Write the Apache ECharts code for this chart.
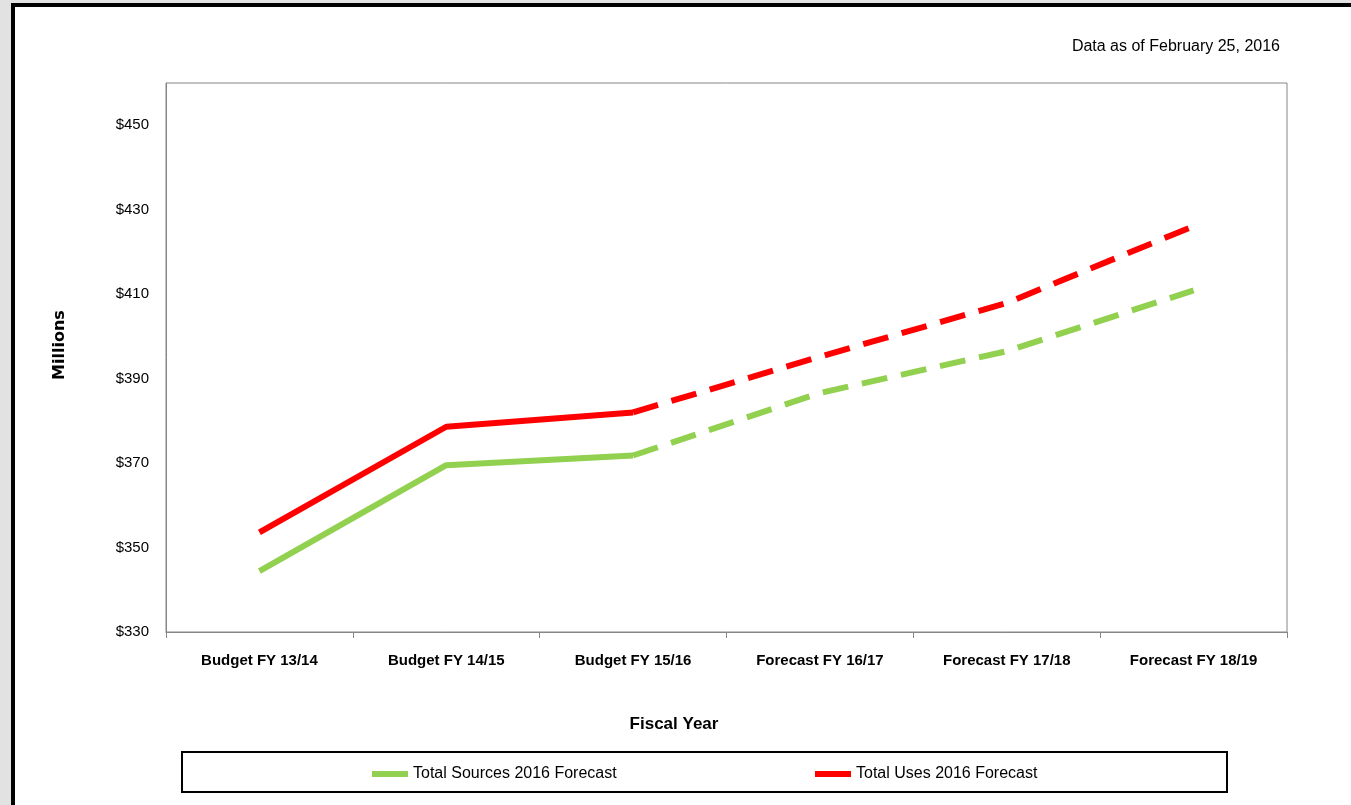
<!DOCTYPE html>
<html lang="en">
<head>
    <meta charset="UTF-8">
    <title>Sources and Uses Forecast</title>
    <script src="https://cdn.jsdelivr.net/npm/echarts@6/dist/echarts.min.js"></script>
    <style>
        *{
            padding:0;
            margin:0;
        }
        html,body{
            width:100%;
            height:100%;
            background:#fff;
        }
        #main{
            width:1351px;
            height:805px;
        }
    </style>
</head>
<body>
<div id="main"></div>
<script>
    // values, millions of dollars
    var categories = ['Budget FY 13/14','Budget FY 14/15','Budget FY 15/16','Forecast FY 16/17','Forecast FY 17/18','Forecast FY 18/19'];
    var sources = [344.4, 369.5, 371.8, 386.6, 396.5, 410.9];
    var uses = [353.6, 378.6, 382.0, 395.2, 407.9, 426.1];
    var lastBudget = 2; // budget years are solid, forecast years dashed
    var yMin = 330, yMax = 460, yLabelStep = 20;

    function solidPart(arr){
        return arr.map(function(v,i){ return i <= lastBudget ? v : null; });
    }
    function dashedPart(arr){
        return arr.map(function(v,i){ return i >= lastBudget ? v : null; });
    }

    var font = '"Liberation Sans",Arial,sans-serif';
    var green = '#92D050', red = '#FF0000', axisGray = '#868686';

    var myChart = echarts.init(document.getElementById('main'));
    var option = {
        backgroundColor:'#fff',
        animation:false,
        title:{
            text:'Data as of February 25, 2016',
            right:66,
            top:34,
            textStyle:{
                fontFamily:font,
                fontWeight:'normal',
                fontSize:16,
                color:'#000'
            }
        },
        grid:{
            left:166,
            right:64,
            top:83,
            bottom:173,
            show:true,
            borderColor:axisGray,
            borderWidth:1
        },
        legend:[{
            data:['Total Sources 2016 Forecast'],
            left:367,
            top:761,
            icon:'rect',
            itemWidth:36,
            itemHeight:6,
            textStyle:{fontFamily:font, fontSize:16, color:'#000'}
        },{
            data:['Total Uses 2016 Forecast'],
            left:810,
            top:761,
            icon:'rect',
            itemWidth:36,
            itemHeight:6,
            textStyle:{fontFamily:font, fontSize:16, color:'#000'}
        }],
        xAxis:{
            type:'category',
            data:categories,
            boundaryGap:true,
            axisLine:{lineStyle:{color:axisGray, width:1}},
            axisTick:{show:true, length:6, lineStyle:{color:axisGray}},
            axisLabel:{
                interval:0,
                color:'#000',
                fontFamily:font,
                fontWeight:'bold',
                fontSize:15,
                margin:21
            },
            splitLine:{show:false}
        },
        yAxis:{
            type:'value',
            min:yMin,
            max:yMax,
            interval:10,
            axisLine:{show:true, lineStyle:{color:axisGray, width:1}},
            axisTick:{show:false},
            splitLine:{show:false},
            axisLabel:{
                color:'#000',
                fontFamily:font,
                fontSize:15,
                margin:17,
                formatter:function(v){
                    return (v - yMin) % yLabelStep === 0 && v < yMax ? '$' + v : '';
                }
            }
        },
        graphic:[
            // window frame
            {type:'rect', shape:{x:0, y:0, width:11, height:805}, style:{fill:'#e2e2e2'}, silent:true},
            {type:'rect', shape:{x:0, y:0, width:1351, height:3}, style:{fill:'#e2e2e2'}, silent:true},
            {type:'rect', shape:{x:11, y:3, width:4, height:802}, style:{fill:'#000'}, silent:true},
            {type:'rect', shape:{x:11, y:3, width:1340, height:4}, style:{fill:'#000'}, silent:true},
            // legend box
            {type:'rect', shape:{x:182, y:752, width:1045, height:40}, style:{fill:null, stroke:'#000', lineWidth:2}, silent:true},
            {
                type:'text', x:60, y:345, rotation:Math.PI/2,
                style:{text:'Millions', fontFamily:'"DejaVu Sans",sans-serif', fontWeight:'bold', fontSize:16, fill:'#000', align:'center', verticalAlign:'middle'}
            },
            {
                type:'text', x:674, y:724,
                style:{text:'Fiscal Year', fontFamily:font, fontWeight:'bold', fontSize:17, fill:'#000', align:'center', verticalAlign:'middle'}
            }
        ],
        series:[
            {
                name:'Total Sources 2016 Forecast',
                type:'line',
                data:solidPart(sources),
                showSymbol:false,
                color:green,
                lineStyle:{color:green, width:6, join:'round'}
            },
            {
                name:'Total Uses 2016 Forecast',
                type:'line',
                data:solidPart(uses),
                showSymbol:false,
                color:red,
                lineStyle:{color:red, width:6, join:'round'}
            },
            {
                name:'Sources forecast',
                type:'line',
                data:dashedPart(sources),
                showSymbol:false,
                color:green,
                lineStyle:{color:green, width:6, type:[26,14], cap:'butt'}
            },
            {
                name:'Uses forecast',
                type:'line',
                data:dashedPart(uses),
                showSymbol:false,
                color:red,
                lineStyle:{color:red, width:6, type:[26,14], cap:'butt'}
            }
        ]
    };
    myChart.setOption(option);
</script>
</body>
</html>
